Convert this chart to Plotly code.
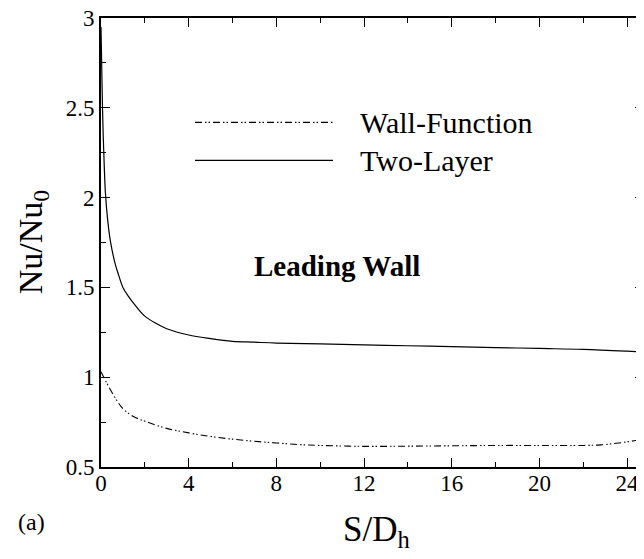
import plotly.graph_objects as go

# Data
s_two_layer = [0.0, 0.03, 0.06, 0.1, 0.15, 0.2, 0.3, 0.4, 0.5, 0.65, 0.8, 1.0, 1.25, 1.5, 2.0, 2.5, 3.0, 4.0, 5.0, 6.0, 7.0, 8.0, 10.0, 12.0, 14.0, 16.0, 18.0, 20.0, 22.0, 24.0, 24.8]
nu_two_layer = [2.95, 2.75, 2.55, 2.35, 2.17, 2.03, 1.88, 1.78, 1.71, 1.63, 1.57, 1.5, 1.45, 1.41, 1.34, 1.30, 1.27, 1.235, 1.215, 1.20, 1.195, 1.19, 1.185, 1.18, 1.175, 1.17, 1.165, 1.16, 1.155, 1.145, 1.14]

s_wall_fn = [0.0, 0.25, 0.5, 0.75, 1.0, 1.5, 2.0, 3.0, 4.0, 5.0, 6.0, 7.0, 8.0, 9.0, 10.0, 12.0, 14.0, 16.0, 18.0, 20.0, 22.0, 22.8, 23.5, 24.0, 24.4, 24.8]
nu_wall_fn = [1.03, 0.97, 0.915, 0.865, 0.825, 0.78, 0.755, 0.715, 0.69, 0.67, 0.655, 0.643, 0.634, 0.625, 0.62, 0.615, 0.616, 0.618, 0.62, 0.62, 0.62, 0.623, 0.632, 0.64, 0.648, 0.66]

x_ticks = [0, 4, 8, 12, 16, 20, 24]
y_ticks = [0.5, 1, 1.5, 2, 2.5, 3]
y_tick_labels = ["0.5", "1", "1.5", "2", "2.5", "3"]

FONT = "Liberation Serif, Times New Roman, serif"
DASH = "7px,3px,1.5px,2px,1.5px,3px"

fig = go.Figure()
fig.add_trace(go.Scatter(x=s_wall_fn, y=nu_wall_fn, mode="lines", name="Wall-Function",
                         line=dict(color="black", width=1.1, dash=DASH), line_shape="spline"))
fig.add_trace(go.Scatter(x=s_two_layer, y=nu_two_layer, mode="lines", name="Two-Layer",
                         line=dict(color="black", width=1.2), line_shape="spline"))

# The page places the figure 8px from the top-left corner of the window
OFF = 8
W, H = 644 - OFF, 559 - OFF
L = 101 - OFF
T = 17.5 - OFF
B = H - (467 - OFF)
R = 0
pw, ph = W - L - R, H - T - B

def px(x):  # window pixel -> paper x
    return (x - OFF - L) / pw

def py(y):  # window pixel -> paper y
    return (H - B - (y - OFF)) / ph

x_max = pw / 21.92

# legend drawn manually (long sample lines)
legend_rows = [("Wall-Function", DASH, py(122)), ("Two-Layer", "solid", py(160))]
for name, dash, yv in legend_rows:
    fig.add_shape(type="line", xref="paper", yref="paper", x0=px(195), x1=px(333), y0=yv, y1=yv,
                  line=dict(color="black", width=1.1, dash=dash))
    fig.add_annotation(x=px(358), y=yv, xref="paper", yref="paper", text=name, showarrow=False,
                       xanchor="left", yanchor="middle", font=dict(family=FONT, size=30, color="black"))

fig.add_annotation(x=px(337), y=py(266), xref="paper", yref="paper", text="<b>Leading Wall</b>",
                   showarrow=False, xanchor="center", yanchor="middle",
                   font=dict(family=FONT, size=29, color="black"))

fig.add_annotation(x=px(33), y=py(242), xref="paper", yref="paper", text="Nu/Nu<sub>0</sub>",
                   textangle=-90, showarrow=False, xanchor="center", yanchor="middle",
                   font=dict(family=FONT, size=34, color="black"))
fig.add_annotation(x=px(376), y=py(532), xref="paper", yref="paper", text="S/D<sub>h</sub>",
                   showarrow=False, xanchor="center", yanchor="middle",
                   font=dict(family=FONT, size=35, color="black"))
fig.add_annotation(x=px(31), y=py(522), xref="paper", yref="paper", text="(a)",
                   showarrow=False, xanchor="center", yanchor="middle",
                   font=dict(family=FONT, size=24, color="black"))

axis_common = dict(showgrid=False, zeroline=False, showline=True, linecolor="black", linewidth=2,
                   mirror="ticks", ticks="inside", ticklen=9, tickwidth=1.3, tickcolor="black",
                   ticklabeloverflow="allow", automargin=False,
                   tickfont=dict(family=FONT, size=23, color="black"))

fig.update_xaxes(range=[0, x_max], tickvals=x_ticks, ticklabelstandoff=-6,
                 minor=dict(ticks="inside", ticklen=5, tickwidth=1.3, dtick=2, tickcolor="black"),
                 **axis_common)
fig.update_yaxes(range=[0.5, 3], tickvals=y_ticks, ticktext=y_tick_labels,
                 minor=dict(ticks="inside", ticklen=5, tickwidth=1.3, dtick=0.25, tickcolor="black"),
                 **axis_common)

fig.update_layout(width=W, height=H, margin=dict(l=L, r=R, t=T, b=B),
                  paper_bgcolor="white", plot_bgcolor="white", showlegend=False)

fig.write_html("out.html")
